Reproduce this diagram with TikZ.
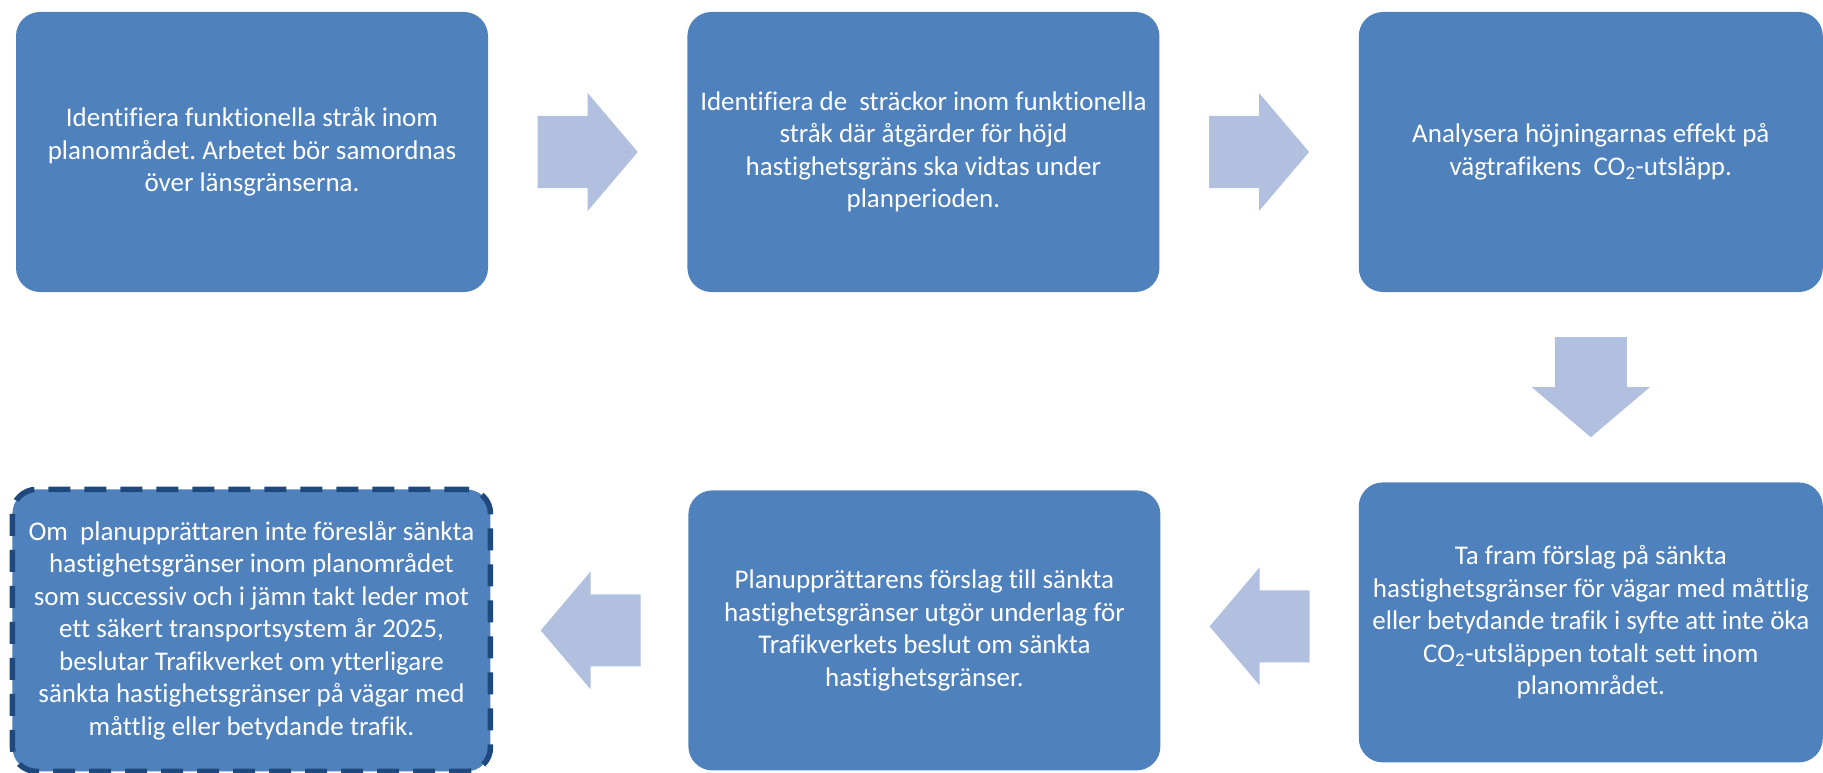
\documentclass[tikz,border=0pt]{standalone}
\usepackage{fontspec}
\setmainfont{Carlito}[Ligatures={NoCommon}]
\usetikzlibrary{positioning,calc}
\definecolor{boxblue}{RGB}{79,129,189}
\definecolor{arrowblue}{RGB}{176,192,222}
\definecolor{edgeblue}{RGB}{31,73,125}
\tikzset{flowarrow/.pic={\fill[arrowblue] (-50,-36) -- (0,-36) -- (0,-59) -- (50,0) -- (0,59) -- (0,36) -- (-50,36) -- cycle;}}
\frenchspacing

\begin{document}
\begin{tikzpicture}[x=1pt, y=-1pt, node distance=199pt, block/.style={rectangle, rounded corners=24pt, fill=boxblue, text=white, align=center, minimum width=472pt, minimum height=280pt, inner sep=0pt, font=\fontsize{27}{32.5}\selectfont}, dashblock/.style={block, draw=edgeblue, line width=5.5pt, dash pattern=on 22pt off 14pt, minimum width=478pt, minimum height=282pt}]
\useasboundingbox (0,0) rectangle (1823,773);
  %% Top row
  \node [block] (identify) at (252,152) {Identifiera funktionella stråk inom\\planområdet. Arbetet bör samordnas\\över länsgränserna.};
  \node [block, right=of identify] (sections) {Identifiera de\ \ sträckor inom funktionella\\stråk där åtgärder för höjd\\hastighetsgräns ska vidtas under\\planperioden.};
  \node [block, right=of sections, minimum width=464pt] (analyse) {Analysera höjningarnas effekt på\\vägtrafikens\ \ CO\textsubscript{2}-utsläpp.};
  %% Bottom row
  \node [block, below=190pt of analyse, minimum width=464pt] (propose) {Ta fram förslag på sänkta\\hastighetsgränser för vägar med måttlig\\eller betydande trafik i syfte att inte öka\\CO\textsubscript{2}-utsläppen totalt sett inom\\planområdet.};
  \node [block, left=198pt of propose, yshift=-8pt] (basis) {Planupprättarens förslag till sänkta\\hastighetsgränser utgör underlag för\\Trafikverkets beslut om sänkta\\hastighetsgränser.};
  \node [dashblock, left=195pt of basis] (decide) {Om\ \ planupprättaren inte föreslår sänkta\\hastighetsgränser inom planområdet\\som successiv och i jämn takt leder mot\\ett säkert transportsystem år 2025,\\beslutar Trafikverket om ytterligare\\sänkta hastighetsgränser på vägar med\\måttlig eller betydande trafik.};
  % Block arrows between the steps
  \pic at ($(identify.east)!0.5!(sections.west)$) {flowarrow};
  \pic at ($(sections.east)!0.5!(analyse.west)$) {flowarrow};
  \pic [rotate=-90] at ($(analyse.south)!0.5!(propose.north)$) {flowarrow};
  \pic [rotate=180] at ($(propose.west)!0.5!(basis.east)$) {flowarrow};
  \pic [rotate=180] at ($(basis.west)!0.5!(decide.east)$) {flowarrow};
\end{tikzpicture}
\end{document}
